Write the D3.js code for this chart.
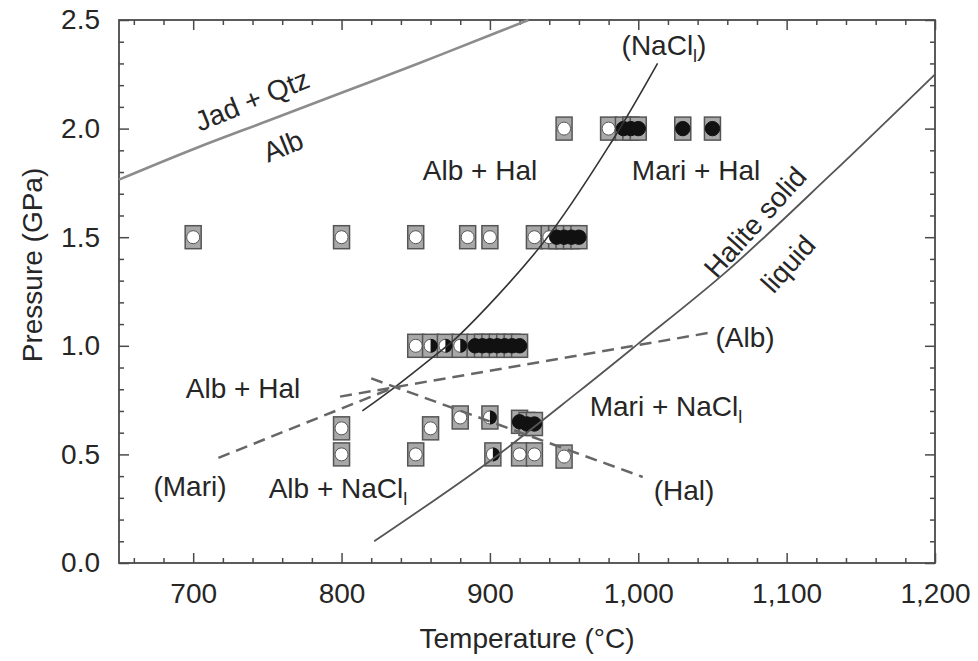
<!DOCTYPE html>
<html>
<head>
<meta charset="utf-8">
<script src="https://cdn.jsdelivr.net/npm/d3@7"></script>
<style>
  body { margin: 0; background: #fff; }
  svg { display: block; font-family: "Liberation Sans", Arial, sans-serif; }
</style>
</head>
<body>
<div id="chart"></div>
<script>
// experiment points [T (°C), P (GPa)]
const openRuns = [[950, 2.0], [980, 2.0], [700, 1.5], [800, 1.5], [850, 1.5], [885, 1.5], [900, 1.5],
  [930, 1.5], [940, 1.5], [850, 1.0], [880, 0.67], [800, 0.62], [860, 0.62], [800, 0.5], [850, 0.5],
  [920, 0.5], [930, 0.5], [950, 0.49]];
const filledRuns = [[990, 2.0], [995, 2.0], [1000, 2.0], [1030, 2.0], [1050, 2.0], [945, 1.5], [950, 1.5],
  [955, 1.5], [960, 1.5], [890, 1.0], [895, 1.0], [900, 1.0], [905, 1.0], [910, 1.0], [915, 1.0], [920, 1.0],
  [920, 0.65], [925, 0.64], [930, 0.64]];
const halfRuns = [[860, 1.0], [870, 1.0], [880, 1.0], [900, 0.67], [902, 0.5]];

// phase boundaries
const jadeiteCurve = [[650, 1.765], [700, 1.905], [750, 2.035], [800, 2.165], [850, 2.295], [900, 2.43], [926, 2.5]];
const naclCurve = [[814, 0.70], [836, 0.81], [862, 0.95], [878, 1.04], [936, 1.475], [983, 1.95], [1013, 2.30]];
const haliteMelt = [[822, 0.10], [900, 0.47], [960, 0.79], [1000, 1.01], [1060, 1.345], [1130, 1.79], [1200, 2.25]];
const mariReaction = [[717, 0.484], [836, 0.81]];
const albReaction = [[799, 0.766], [1048, 1.06]];
const halReaction = [[820, 0.85], [1003, 0.396]];

const xMajor = [700, 800, 900, 1000, 1100, 1200];
const yMajor = [0, 0.5, 1.0, 1.5, 2.0, 2.5];

const W = 978, H = 661;
const margin = { top: 20, right: 43, bottom: 98, left: 119 };

const svg = d3.select("#chart").append("svg")
  .attr("width", W)
  .attr("height", H);

const x = d3.scaleLinear().domain([650, 1200]).range([margin.left, W - margin.right]);
const y = d3.scaleLinear().domain([0, 2.5]).range([H - margin.bottom, margin.top]);

const xMinor = d3.range(660, 1200, 20).filter((d) => d % 100 !== 0);
const yMinor = d3.range(1, 25).map((d) => d / 10).filter((d) => Math.round(d * 10) % 5 !== 0);

const axisColor = "#4a4a4a";
const textColor = "#262626";

function styleAxis(g) {
  g.select(".domain").remove();
  g.selectAll("line").attr("stroke", axisColor).attr("stroke-width", 1.5);
  g.selectAll("text").attr("fill", textColor).style("font-size", "28px").attr("font-family", null);
}

// bottom
svg.append("g").attr("transform", `translate(0,${y(0)})`)
  .call(d3.axisBottom(x).tickValues(xMajor).tickSize(-10).tickPadding(20).tickFormat(d3.format(",")))
  .call(styleAxis);
svg.append("g").attr("transform", `translate(0,${y(0)})`)
  .call(d3.axisBottom(x).tickValues(xMinor).tickSize(-5).tickFormat(""))
  .call(styleAxis);
// top
svg.append("g").attr("transform", `translate(0,${y(2.5)})`)
  .call(d3.axisTop(x).tickValues(xMajor).tickSize(-10).tickFormat(""))
  .call(styleAxis);
svg.append("g").attr("transform", `translate(0,${y(2.5)})`)
  .call(d3.axisTop(x).tickValues(xMinor).tickSize(-5).tickFormat(""))
  .call(styleAxis);
// left
svg.append("g").attr("transform", `translate(${x(650)},0)`)
  .call(d3.axisLeft(y).tickValues(yMajor).tickSize(-10).tickPadding(19).tickFormat(d3.format(".1f")))
  .call(styleAxis);
svg.append("g").attr("transform", `translate(${x(650)},0)`)
  .call(d3.axisLeft(y).tickValues(yMinor).tickSize(-5).tickFormat(""))
  .call(styleAxis);
// right
svg.append("g").attr("transform", `translate(${x(1200)},0)`)
  .call(d3.axisRight(y).tickValues(yMajor).tickSize(-10).tickFormat(""))
  .call(styleAxis);
svg.append("g").attr("transform", `translate(${x(1200)},0)`)
  .call(d3.axisRight(y).tickValues(yMinor).tickSize(-5).tickFormat(""))
  .call(styleAxis);

// frame
svg.append("rect")
  .attr("x", x(650)).attr("y", y(2.5))
  .attr("width", x(1200) - x(650)).attr("height", y(0) - y(2.5))
  .attr("fill", "none").attr("stroke", axisColor).attr("stroke-width", 1.8);

// axis titles
svg.append("text")
  .attr("x", (x(650) + x(1200)) / 2).attr("y", 648)
  .attr("text-anchor", "middle").attr("fill", textColor).style("font-size", "28px")
  .text("Temperature (°C)");
svg.append("text")
  .attr("transform", `translate(42,${265}) rotate(-90)`)
  .attr("text-anchor", "middle").attr("fill", textColor).style("font-size", "28px")
  .text("Pressure (GPa)");

// markers
const mw = 16, mh = 23, r = 6.5;
const plot = svg.append("g");
function frames(data) {
  plot.append("g").selectAll("rect").data(data).join("rect")
    .attr("x", (d) => x(d[0]) - mw / 2).attr("y", (d) => y(d[1]) - mh / 2)
    .attr("width", mw).attr("height", mh)
    .attr("fill", "#a8a8a8").attr("stroke", "#555").attr("stroke-width", 1.5);
}
frames(openRuns.concat(halfRuns, filledRuns));

plot.append("g").selectAll("circle").data(openRuns).join("circle")
  .attr("cx", (d) => x(d[0])).attr("cy", (d) => y(d[1])).attr("r", r)
  .attr("fill", "#fff").attr("stroke", "#555").attr("stroke-width", 1);
plot.append("g").selectAll("circle").data(filledRuns).join("circle")
  .attr("cx", (d) => x(d[0])).attr("cy", (d) => y(d[1])).attr("r", 7.2)
  .attr("fill", "#111").attr("stroke", "#111");
const half = plot.append("g").selectAll("g").data(halfRuns).join("g")
  .attr("transform", (d) => `translate(${x(d[0])},${y(d[1])})`);
half.append("circle").attr("r", r).attr("fill", "#fff").attr("stroke", "#555");
half.append("path")
  .attr("d", `M0,${-r - 0.5} A${r + 0.5},${r + 0.5} 0 0 1 0,${r + 0.5} Z`)
  .attr("fill", "#111");

// boundaries
const line = d3.line().x((d) => x(d[0])).y((d) => y(d[1])).curve(d3.curveCatmullRom);
svg.append("path").datum(jadeiteCurve).attr("d", line)
  .attr("fill", "none").attr("stroke", "#8c8c8c").attr("stroke-width", 2.6);
svg.append("path").datum(naclCurve).attr("d", line)
  .attr("fill", "none").attr("stroke", "#333").attr("stroke-width", 1.6);
svg.append("path").datum(haliteMelt).attr("d", line)
  .attr("fill", "none").attr("stroke", "#555").attr("stroke-width", 1.8);
[mariReaction, albReaction, halReaction].forEach((seg) => {
  svg.append("path").datum(seg).attr("d", line)
    .attr("fill", "none").attr("stroke", "#666").attr("stroke-width", 2.5)
    .attr("stroke-dasharray", "12,7");
});

// field labels
function label(txt, px, py, angle, sub) {
  const t = svg.append("text")
    .attr("transform", `translate(${px},${py}) rotate(${angle || 0})`)
    .attr("text-anchor", "middle").attr("dy", "0.35em")
    .attr("fill", textColor).style("font-size", "28px");
  t.append("tspan").text(txt);
  if (sub) {
    t.append("tspan").attr("dy", 7).style("font-size", "18px").text(sub.s);
    if (sub.after) t.append("tspan").attr("dy", -7).text(sub.after);
  }
}
label("Jad + Qtz", 252, 100, -22);
label("Alb", 283, 146, -22);
label("Alb + Hal", 480, 170);
label("Mari + Hal", 696, 170);
label("Halite solid", 755, 222, -48);
label("liquid", 788, 264, -48);
label("(NaCl", 664, 45, 0, { s: "l", after: ")" });
label("(Alb)", 745, 337);
label("Alb + Hal", 243, 388);
label("Mari + NaCl", 666, 406, 0, { s: "l" });
label("(Hal)", 684, 490);
label("(Mari)", 190, 486);
label("Alb + NaCl", 338, 488, 0, { s: "l" });
</script>
</body>
</html>
